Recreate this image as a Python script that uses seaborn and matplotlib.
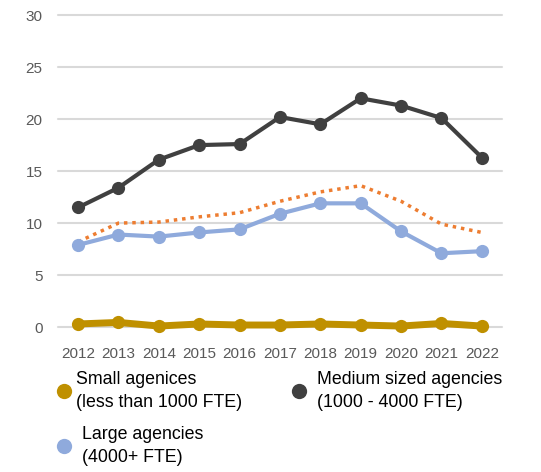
import pandas as pd
import matplotlib
matplotlib.use("Agg")
import matplotlib.pyplot as plt
from matplotlib.lines import Line2D
import seaborn as sns

sns.set_theme(style="white")
plt.rcParams["font.family"] = ["Liberation Sans", "DejaVu Sans"]

years = [2012, 2013, 2014, 2015, 2016, 2017, 2018, 2019, 2020, 2021, 2022]
small = [0.3, 0.45, 0.1, 0.3, 0.2, 0.2, 0.3, 0.2, 0.1, 0.35, 0.1]
medium = [11.5, 13.4, 16.1, 17.5, 17.6, 20.2, 19.5, 22.0, 21.3, 20.1, 16.3]
large = [7.9, 8.9, 8.7, 9.1, 9.4, 10.9, 11.9, 11.9, 9.2, 7.1, 7.3]
dotted = [8.2, 10.0, 10.1, 10.6, 11.0, 12.1, 13.0, 13.6, 12.1, 9.9, 9.1]

labels = {
    "small": "Small agenices\n(less than 1000 FTE)",
    "medium": "Medium sized agencies\n(1000 - 4000 FTE)",
    "large": "Large agencies\n(4000+ FTE)",
}
colors = {"small": "#BF9000", "medium": "#404040", "large": "#8FAADC", "dotted": "#ED7D31"}

df = pd.DataFrame({"pos": range(len(years)), "small": small, "medium": medium,
                   "large": large, "dotted": dotted})

W, H = 541, 472
fig = plt.figure(figsize=(W / 100, H / 100), dpi=100)
ax = fig.add_axes([0.107, 0.307, 0.821, 0.661])

# gridlines
for v in range(0, 31, 5):
    ax.axhline(v, color="#D9D9D9", lw=1.5, zorder=0)

sns.lineplot(data=df, x="pos", y="dotted", ax=ax, color=colors["dotted"],
             lw=2.5, linestyle=(0, (1, 1.4)), zorder=2)
sns.lineplot(data=df, x="pos", y="large", ax=ax, color=colors["large"], lw=3,
             marker="o", markersize=9.5, markeredgewidth=0, zorder=3)
sns.lineplot(data=df, x="pos", y="medium", ax=ax, color=colors["medium"], lw=3,
             marker="o", markersize=9.5, markeredgewidth=0, zorder=3)
sns.lineplot(data=df, x="pos", y="small", ax=ax, color=colors["small"], lw=5,
             marker="o", markersize=9.5, markeredgewidth=0, zorder=4)
for line in ax.lines:
    line.set_clip_on(False)

ax.set_xlim(-0.5, len(years) - 0.5)
ax.set_ylim(0, 30)
ax.set_yticks(range(0, 31, 5))
ax.set_xticks(range(len(years)))
ax.set_xticklabels([str(y) for y in years])
ax.tick_params(axis="both", colors="#595959", labelsize=11, length=0)
ax.tick_params(axis="y", pad=11)
ax.tick_params(axis="x", pad=14)
ax.set_xlabel("")
ax.set_ylabel("")
sns.despine(ax=ax, left=True, bottom=True)

# legend below the plot, placed by hand (pixel positions from the top-left)
legend_items = [("small", 64, 391, 76), ("medium", 299, 391, 317), ("large", 64, 446, 82)]
for key, mx, my, tx in legend_items:
    fig.add_artist(Line2D([mx / W], [1 - my / H], marker="o", ls="", color=colors[key],
                          markersize=11, markeredgewidth=0, transform=fig.transFigure))
    fig.text(tx / W, 1 - my / H, labels[key], ha="left", va="center", fontsize=12.8,
             color="black", linespacing=1.45)

fig.savefig("out.png", dpi=100, facecolor="white")
